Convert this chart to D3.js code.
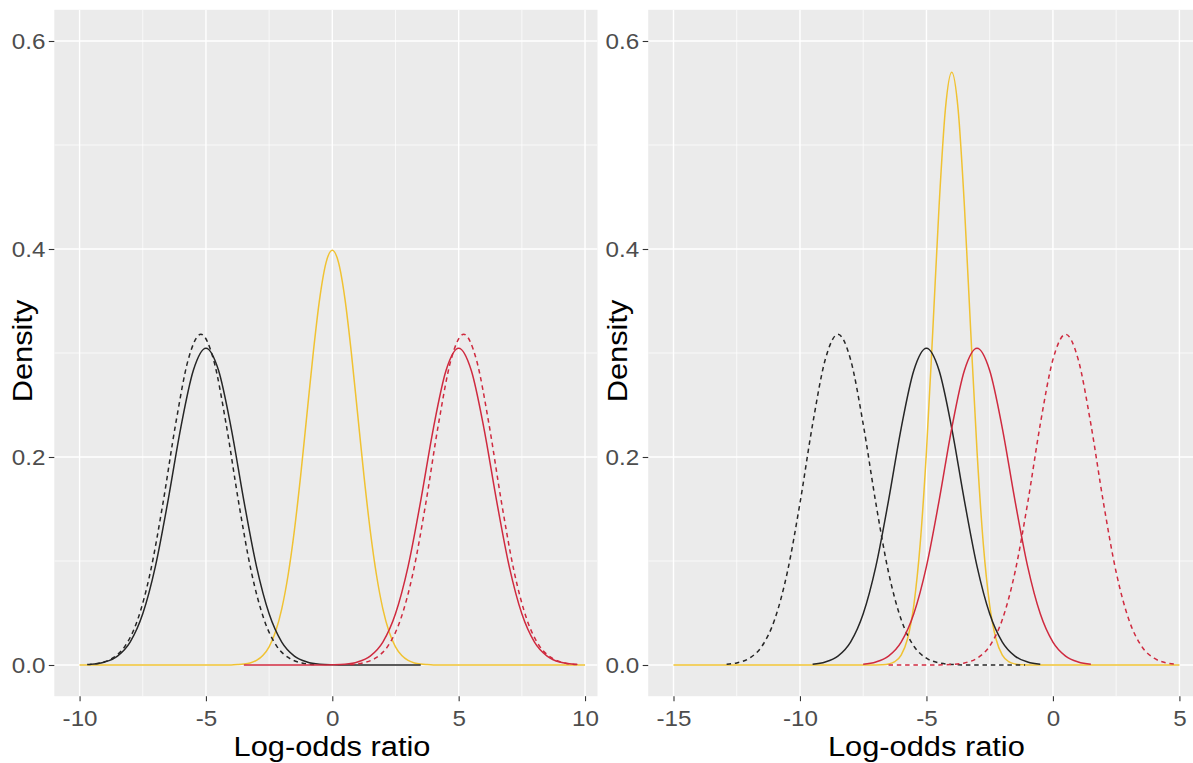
<!DOCTYPE html>
<html>
<head>
<meta charset="utf-8">
<script src="https://cdn.jsdelivr.net/npm/d3@7"></script>
<style>
  body { margin: 0; background: #ffffff; }
  svg text { font-family: "Liberation Sans", Arial, sans-serif; }
</style>
</head>
<body>
<svg id="chart" width="1193" height="763"></svg>
<script>
// ---- Density curves, left plot ----
const leftYellowX = [-10, -4.5, -4, -3.75, -3.5, -3.25, -3, -2.75, -2.5, -2.25, -2, -1.75, -1.5, -1.25, -1, -0.75, -0.5, -0.25,
  0, 0.25, 0.5, 0.75, 1, 1.25, 1.5, 1.75, 2, 2.25, 2.5, 2.75, 3, 3.25, 3.5, 3.75, 4, 4.5, 10];
const leftYellowY = [0, 0, 0.0001, 0.0004, 0.0009, 0.0020, 0.0044, 0.0091, 0.0175, 0.0317, 0.0540, 0.0863, 0.1295, 0.1826, 0.2420, 0.3011, 0.3521, 0.3867,
  0.3989, 0.3867, 0.3521, 0.3011, 0.2420, 0.1826, 0.1295, 0.0863, 0.0540, 0.0317, 0.0175, 0.0091, 0.0044, 0.0020, 0.0009, 0.0004, 0.0001, 0, 0];

const leftBlackSolidX = [-9.6, -9, -8.5, -8, -7.5, -7, -6.5, -6, -5.5, -5, -4.5, -4, -3.5, -3, -2.5, -2, -1.5, -1, -0.5, 0, 0.5, 3.5];
const leftBlackSolidY = [0.0006, 0.0029, 0.0086, 0.0221, 0.0493, 0.0949, 0.1581, 0.2276, 0.2831, 0.3045, 0.2831, 0.2276, 0.1581, 0.0949, 0.0493, 0.0221, 0.0086, 0.0029, 0.0008, 0.0002, 0, 0];

const leftBlackDashX = [-9.7, -9.2, -8.7, -8.2, -7.7, -7.2, -6.7, -6.2, -5.7, -5.2, -4.7, -4.2, -3.7, -3.2, -2.7, -2.2, -1.7, -1.2, -0.7];
const leftBlackDashY = [0.0005, 0.0020, 0.0065, 0.0182, 0.0437, 0.0892, 0.1556, 0.2315, 0.2937, 0.3180, 0.2937, 0.2315, 0.1556, 0.0892, 0.0437, 0.0182, 0.0065, 0.0020, 0.0005];

const leftRedSolidX = [-3.5, -0.5, 0, 0.5, 1, 1.5, 2, 2.5, 3, 3.5, 4, 4.5, 5, 5.5, 6, 6.5, 7, 7.5, 8, 8.5, 9, 9.7];
const leftRedSolidY = [0, 0, 0.0002, 0.0008, 0.0029, 0.0086, 0.0221, 0.0493, 0.0949, 0.1581, 0.2276, 0.2831, 0.3045, 0.2831, 0.2276, 0.1581, 0.0949, 0.0493, 0.0221, 0.0086, 0.0029, 0.0006];

const leftRedDashX = [0.7, 1.2, 1.7, 2.2, 2.7, 3.2, 3.7, 4.2, 4.7, 5.2, 5.7, 6.2, 6.7, 7.2, 7.7, 8.2, 8.7, 9.2, 9.7];
const leftRedDashY = [0.0005, 0.0020, 0.0065, 0.0182, 0.0437, 0.0892, 0.1556, 0.2315, 0.2937, 0.3180, 0.2937, 0.2315, 0.1556, 0.0892, 0.0437, 0.0182, 0.0065, 0.0020, 0.0005];

// ---- Density curves, right plot ----
const rightYellowX = [-15, -7.5, -7, -6.75, -6.5, -6.25, -6, -5.75, -5.5, -5.25, -5, -4.75, -4.5, -4.25,
  -4, -3.75, -3.5, -3.25, -3, -2.75, -2.5, -2.25, -2, -1.75, -1.5, -1.25, -1, -0.5, 5];
const rightYellowY = [0, 0, 0.0001, 0.0003, 0.0010, 0.0033, 0.0096, 0.0250, 0.0574, 0.1157, 0.2054, 0.3210, 0.4416, 0.5347,
  0.5699, 0.5347, 0.4416, 0.3210, 0.2054, 0.1157, 0.0574, 0.0250, 0.0096, 0.0033, 0.0010, 0.0003, 0.0001, 0, 0];

const rightBlackDashX = [-12.9, -12.5, -12, -11.5, -11, -10.5, -10, -9.5, -9, -8.5, -8, -7.5, -7, -6.5, -6, -5.5, -5, -4.5, -4, -3.5, -1.1];
const rightBlackDashY = [0.0007, 0.0020, 0.0065, 0.0182, 0.0437, 0.0892, 0.1556, 0.2315, 0.2937, 0.3180, 0.2937, 0.2315, 0.1556, 0.0892, 0.0437, 0.0182, 0.0065, 0.0020, 0.0005, 0.0001, 0];

const rightBlackSolidX = [-9.5, -9, -8.5, -8, -7.5, -7, -6.5, -6, -5.5, -5, -4.5, -4, -3.5, -3, -2.5, -2, -1.5, -1, -0.5];
const rightBlackSolidY = [0.0008, 0.0029, 0.0086, 0.0221, 0.0493, 0.0949, 0.1581, 0.2276, 0.2831, 0.3045, 0.2831, 0.2276, 0.1581, 0.0949, 0.0493, 0.0221, 0.0086, 0.0029, 0.0008];

const rightRedSolidX = [-7.5, -7, -6.5, -6, -5.5, -5, -4.5, -4, -3.5, -3, -2.5, -2, -1.5, -1, -0.5, 0, 0.5, 1, 1.5];
const rightRedSolidY = [0.0008, 0.0029, 0.0086, 0.0221, 0.0493, 0.0949, 0.1581, 0.2276, 0.2831, 0.3045, 0.2831, 0.2276, 0.1581, 0.0949, 0.0493, 0.0221, 0.0086, 0.0029, 0.0008];

const rightRedDashX = [-6.5, -4.5, -4, -3.5, -3, -2.5, -2, -1.5, -1, -0.5, 0, 0.5, 1, 1.5, 2, 2.5, 3, 3.5, 4, 4.5, 4.9];
const rightRedDashY = [0, 0.0001, 0.0005, 0.0020, 0.0065, 0.0182, 0.0437, 0.0892, 0.1556, 0.2315, 0.2937, 0.3180, 0.2937, 0.2315, 0.1556, 0.0892, 0.0437, 0.0182, 0.0065, 0.0020, 0.0007];

// ---- Axis ticks ----
const leftXTicks = [-10, -5, 0, 5, 10];
const leftXMinor = [-7.5, -2.5, 2.5, 7.5];
const rightXTicks = [-15, -10, -5, 0, 5];
const rightXMinor = [-12.5, -7.5, -2.5, 2.5];
const yTicks = [0, 0.2, 0.4, 0.6];
const yMinor = [0.1, 0.3, 0.5];
const yTickLabels = ["0.0", "0.2", "0.4", "0.6"];
const xTitle = "Log-odds ratio";
const yTitle = "Density";

// ---- Line styles ----
const COL_BLACK = "#262626";
const COL_RED = "#CF2A3F";
const COL_YELLOW = "#F0C232";
const DASH = "4.5,3.8";

const zip = (xs, ys) => xs.map((x, i) => ({ x, y: ys[i] }));

const panels = [
  {
    key: "a",
    xDomain: [-11, 11], xRange: [54.3, 610.3], bgRight: 597.5,
    ticks: leftXTicks, minor: leftXMinor,
    yLabelX: 45.4, yTitleX: 32.4, titleCx: 332,
    series: [
      { data: zip(leftYellowX, leftYellowY), color: COL_YELLOW, dash: null },
      { data: zip(leftBlackSolidX, leftBlackSolidY), color: COL_BLACK, dash: null },
      { data: zip(leftBlackDashX, leftBlackDashY), color: COL_BLACK, dash: DASH },
      { data: zip(leftRedSolidX, leftRedSolidY), color: COL_RED, dash: null },
      { data: zip(leftRedDashX, leftRedDashY), color: COL_RED, dash: DASH }
    ]
  },
  {
    key: "b",
    xDomain: [-16, 6], xRange: [648.2, 1204.7], bgRight: 1193,
    ticks: rightXTicks, minor: rightXMinor,
    yLabelX: 639.2, yTitleX: 627, titleCx: 926.4,
    series: [
      { data: zip(rightYellowX, rightYellowY), color: COL_YELLOW, dash: null },
      { data: zip(rightBlackSolidX, rightBlackSolidY), color: COL_BLACK, dash: null },
      { data: zip(rightBlackDashX, rightBlackDashY), color: COL_BLACK, dash: DASH },
      { data: zip(rightRedSolidX, rightRedSolidY), color: COL_RED, dash: null },
      { data: zip(rightRedDashX, rightRedDashY), color: COL_RED, dash: DASH }
    ]
  }
];

const svg = d3.select("#chart");
const yScale = d3.scaleLinear().domain([-0.03, 0.63]).range([696.2, 9.8]);
const panelTop = yScale(0.63), panelBottom = yScale(-0.03);

panels.forEach(p => {
  const x = d3.scaleLinear().domain(p.xDomain).range(p.xRange);
  const left = p.xRange[0];
  const g = svg.append("g");

  // panel background
  g.append("rect")
    .attr("x", left).attr("y", panelTop)
    .attr("width", p.bgRight - left).attr("height", panelBottom - panelTop)
    .attr("fill", "#EBEBEB");

  const clipId = "clip-" + p.key;
  svg.append("defs").append("clipPath").attr("id", clipId)
    .append("rect")
    .attr("x", left).attr("y", panelTop)
    .attr("width", p.bgRight - left).attr("height", panelBottom - panelTop);

  const grid = g.append("g").attr("clip-path", `url(#${clipId})`);
  // minor grid
  grid.selectAll(".ymin").data(yMinor).join("line")
    .attr("x1", left).attr("x2", p.bgRight)
    .attr("y1", d => yScale(d)).attr("y2", d => yScale(d))
    .attr("stroke", "#FFFFFF").attr("stroke-width", 0.7);
  grid.selectAll(".xmin").data(p.minor).join("line")
    .attr("x1", d => x(d)).attr("x2", d => x(d))
    .attr("y1", panelTop).attr("y2", panelBottom)
    .attr("stroke", "#FFFFFF").attr("stroke-width", 0.7);
  // major grid
  grid.selectAll(".ymaj").data(yTicks).join("line")
    .attr("x1", left).attr("x2", p.bgRight)
    .attr("y1", d => yScale(d)).attr("y2", d => yScale(d))
    .attr("stroke", "#FFFFFF").attr("stroke-width", 1.4);
  grid.selectAll(".xmaj").data(p.ticks).join("line")
    .attr("x1", d => x(d)).attr("x2", d => x(d))
    .attr("y1", panelTop).attr("y2", panelBottom)
    .attr("stroke", "#FFFFFF").attr("stroke-width", 1.4);

  // density curves
  const line = d3.line().x(d => x(d.x)).y(d => yScale(d.y)).curve(d3.curveMonotoneX);
  const curves = g.append("g").attr("clip-path", `url(#${clipId})`);
  p.series.forEach(s => {
    curves.append("path")
      .attr("d", line(s.data))
      .attr("fill", "none")
      .attr("stroke", s.color)
      .attr("stroke-width", 1.5)
      .attr("stroke-linejoin", "round")
      .attr("stroke-dasharray", s.dash);
  });

  // y axis
  const yAxis = g.append("g").attr("transform", `translate(${left},0)`)
    .call(d3.axisLeft(yScale).tickValues(yTicks).tickFormat((d, i) => yTickLabels[i]).tickSize(5.5));
  yAxis.select(".domain").remove();
  yAxis.selectAll(".tick line").attr("stroke", "#333333").attr("stroke-width", 1.1);
  yAxis.selectAll(".tick text")
    .attr("x", null).attr("dy", "0.36em")
    .attr("transform", `translate(${p.yLabelX - left},0) scale(1.1,1)`)
    .attr("text-anchor", "end")
    .attr("fill", "#4D4D4D").attr("font-size", 22)
    .style("font-family", "'Liberation Sans', Arial, sans-serif");

  // x axis (plain hyphen-minus in labels)
  const xAxis = g.append("g").attr("transform", `translate(0,${panelBottom})`)
    .call(d3.axisBottom(x).tickValues(p.ticks).tickFormat(d => String(d)).tickSize(5));
  xAxis.select(".domain").remove();
  xAxis.selectAll(".tick line").attr("stroke", "#333333").attr("stroke-width", 1.1);
  xAxis.selectAll(".tick text")
    .attr("y", null).attr("dy", null)
    .attr("transform", "translate(0,29.6) scale(1.1,1)")
    .attr("fill", "#4D4D4D").attr("font-size", 22)
    .style("font-family", "'Liberation Sans', Arial, sans-serif");

  // axis titles
  g.append("text")
    .attr("transform", `translate(${p.titleCx},756) scale(1.1,1)`)
    .attr("text-anchor", "middle")
    .attr("font-size", 28).attr("fill", "#000000")
    .text(xTitle);
  g.append("text")
    .attr("transform", `translate(${p.yTitleX},351) rotate(-90) scale(1.1,1)`)
    .attr("text-anchor", "middle")
    .attr("font-size", 28).attr("fill", "#000000")
    .text(yTitle);
});
</script>
</body>
</html>
